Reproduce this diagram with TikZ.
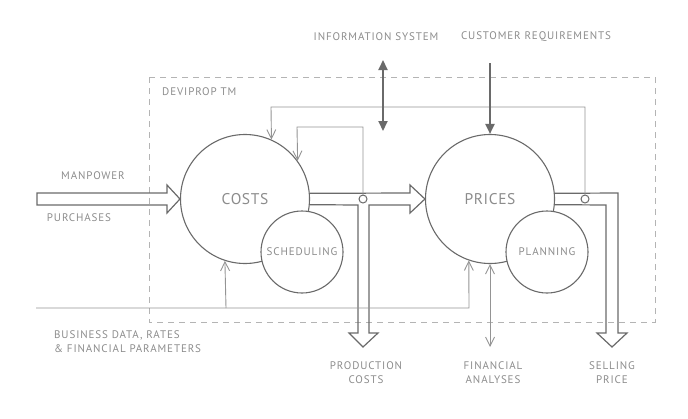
\documentclass[tikz,border=0pt]{standalone}
\usepackage{fontspec}
\setmainfont{PT Sans}
\newfontfamily\tagfont{PT Sans}[LetterSpace=8]
\newfontfamily\modfont{PT Sans}[LetterSpace=4]
\usetikzlibrary{arrows.meta}
\definecolor{linegray}{HTML}{6A6A6A}
\definecolor{thingray}{HTML}{949494}
\definecolor{boxgray}{HTML}{B4B4B4}
\definecolor{textgray}{HTML}{8C8C8C}
\tikzset{%
  flow/.style={line width=1.2pt,draw=linegray,line join=miter},
  feed/.style={line width=0.9pt,draw=thingray,-{Straight Barb[length=9pt,width=9pt]}},
  feed both/.style={line width=0.9pt,draw=thingray,{Straight Barb[length=9pt,width=9pt]}-{Straight Barb[length=9pt,width=9pt]}},
  heavy/.style={line width=2pt,draw=linegray,-{Triangle[length=10pt,width=9pt]}},
  heavy both/.style={line width=2pt,draw=linegray,{Triangle[length=10pt,width=9pt]}-{Triangle[length=10pt,width=9pt]}},
  bigcircle/.style={circle,draw=linegray,line width=1.1pt,fill=white,minimum size=129pt,
    inner sep=0pt,text=textgray,font=\modfont\fontsize{15.5}{18}\selectfont},
  subcircle/.style={circle,draw=linegray,line width=1.1pt,fill=white,minimum size=82pt,
    inner sep=0pt,text=textgray,font=\tagfont\fontsize{11}{13}\selectfont},
  junction/.style={circle,draw=linegray,line width=1pt,fill=white,minimum size=8pt,inner sep=0pt},
  flowtext/.style={text=textgray,inner sep=0pt,align=center,font=\tagfont\fontsize{11}{14.5}\selectfont},
  system/.style={draw=boxgray,line width=0.9pt,dash pattern=on 6pt off 5pt}
}

\begin{document}
\begin{tikzpicture}[x=1pt,y=-1pt]
    \useasboundingbox (0,0) rectangle (688,418);

    % system boundary
    \draw[system] (149,77) rectangle (655,322);
    \node[flowtext,anchor=west] (deviprop) at (162,92) {DEVIPROP TM};

    % the two main modules
    \node[bigcircle] (costs) at (245,199) {COSTS};
    \node[bigcircle] (prices) at (490,199) {PRICES};

    % material flows (hollow arrows)
    \draw[flow] (37,193) -- (167,193) -- (167,185) -- (costs.west) -- (167,213) -- (167,205) -- (37,205) -- cycle;

    \draw[flow] (costs.5.34) -- (410,193) -- (410,185) -- (prices.west) -- (410,213) -- (410,205)
        -- (369,205) -- (369,333) -- (378,333) -- (363,347) -- (349,333) -- (358,333) -- (358,205)
        -- (costs.-5.34);

    \draw[flow] (prices.5.34) -- (618,193) -- (618,333) -- (627,333) -- (612,347) -- (597,333)
        -- (606,333) -- (606,205) -- (prices.-5.34);

    % sub-modules
    \node[subcircle] (scheduling) at (302,252) {SCHEDULING};
    \node[subcircle] (planning) at (547,252) {PLANNING};

    % junctions on the flows
    \node[junction] (j1) at (363,199) {};
    \node[junction] (j2) at (585,199) {};

    % feedback loops
    \coordinate (outer) at (271,107);
    \coordinate (inner) at (297,127);
    \draw[feed] (j2.north) |- (outer) -- (costs.66.2);
    \draw[feed] (j1.north) |- (inner) -- (costs.36.3);

    % business data
    \coordinate (bizstart) at (36,308);
    \coordinate (bizend) at (469,308);
    \coordinate (bizcosts) at (226,308);
    \draw[feed] (bizstart) -- (bizend) -- (prices.251.5);
    \draw[feed] (bizcosts) -- (costs.252.9);

    % outside links
    \node[flowtext] (info) at (376,37) {INFORMATION SYSTEM};
    \node[flowtext] (customer) at (536,37) {CUSTOMER REQUIREMENTS};
    \coordinate (infotop) at (383,60);
    \coordinate (infobot) at (383,131);
    \coordinate (custtop) at (490,63);
    \draw[heavy both] (infotop) -- (infobot);
    \draw[heavy] (custtop) -- (prices.north);

    \coordinate (analysis) at (490,347);
    \draw[feed both] (prices.south) -- (analysis);

    % texts
    \node[flowtext] (manpower) at (93,176) {MANPOWER};
    \node[flowtext] (purchases) at (79,218) {PURCHASES};
    \node[flowtext,anchor=north west,align=left] (business) at (54,330) {BUSINESS DATA, RATES\\\& FINANCIAL PARAMETERS};
    \node[flowtext,anchor=north] (prodcosts) at (366,361) {PRODUCTION\\COSTS};
    \node[flowtext,anchor=north] (analyses) at (493,361) {FINANCIAL\\ANALYSES};
    \node[flowtext,anchor=north] (selling) at (612,361) {SELLING\\PRICE};

\end{tikzpicture}
\end{document}
